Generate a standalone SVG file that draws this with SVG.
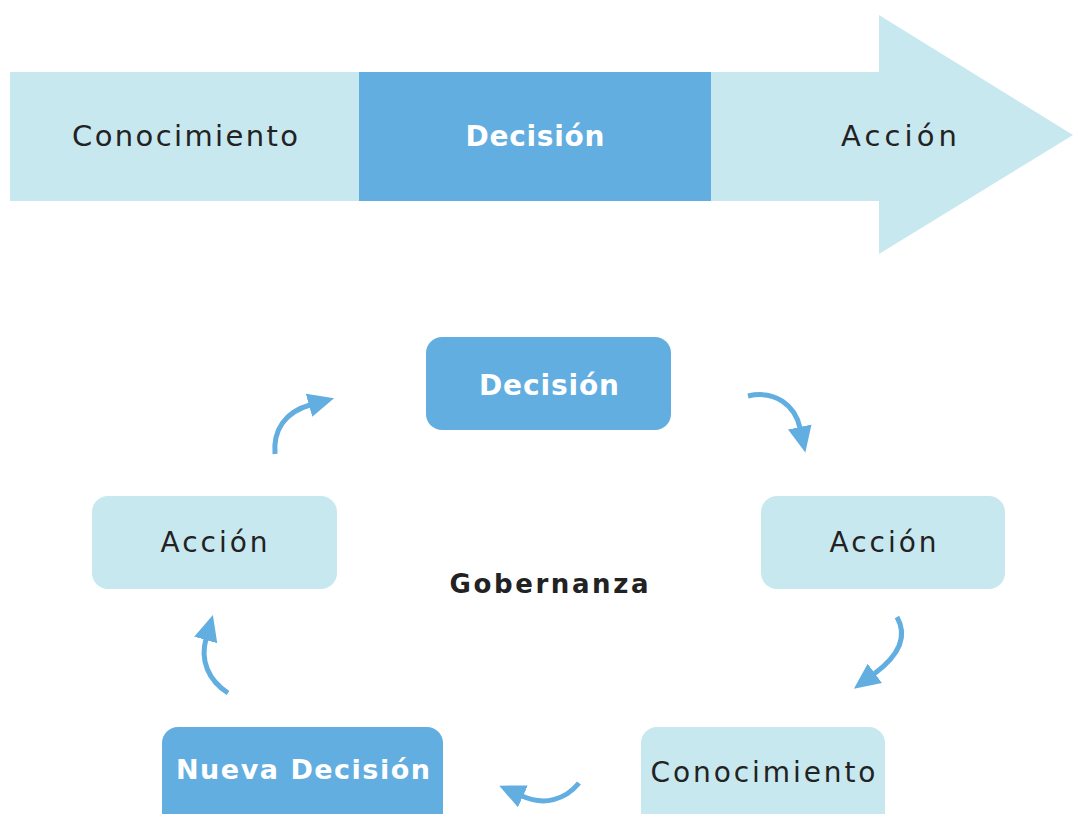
<svg xmlns="http://www.w3.org/2000/svg" width="1073" height="814" viewBox="0 0 1073 814">
<defs>
<style>
.light{fill:#c8e8ef}
.dark{fill:#62aee0}
.t{font-family:"DejaVu Sans","Open Sans",sans-serif;text-anchor:middle;fill:#222}
.tb{font-family:"DejaVu Sans","Open Sans",sans-serif;text-anchor:middle;fill:#fff;font-weight:bold}
.conn{fill:none;stroke:#62aee0;stroke-width:5;marker-end:url(#ah)}
</style>
<marker id="ah" markerUnits="userSpaceOnUse" viewBox="0 -13 28 26" refX="1" refY="0" markerWidth="28" markerHeight="26" orient="auto">
<path d="M0,-12 L26,0 L0,12 z" fill="#62aee0"/>
</marker>
</defs>
<g id="top-arrow">
<rect class="light" x="10" y="72" width="350" height="129"/>
<rect class="dark" x="359" y="72" width="353" height="129"/>
<polygon class="light" points="711,72 879,72 879,15 1073,135 879,254 879,201 711,201"/>
<text class="t" x="185" y="146" font-size="29" textLength="226" lengthAdjust="spacing">Conocimiento</text>
<text class="tb" x="535" y="146" font-size="28" textLength="139" lengthAdjust="spacing">Decisión</text>
<text class="t" x="899" y="146" font-size="29" textLength="116" lengthAdjust="spacing">Acción</text>
</g>
<g id="n-decision">
<rect class="dark" x="426" y="337" width="245" height="93" rx="16"/>
<text class="tb" x="549" y="395" font-size="28" textLength="140" lengthAdjust="spacing">Decisión</text>
</g>
<g id="n-accion-r">
<rect class="light" x="761" y="496" width="244" height="93" rx="16"/>
<text class="t" x="883" y="552" font-size="28" textLength="107" lengthAdjust="spacing">Acción</text>
</g>
<g id="n-accion-l">
<rect class="light" x="92" y="496" width="245" height="93" rx="16"/>
<text class="t" x="214" y="552" font-size="28" textLength="107" lengthAdjust="spacing">Acción</text>
</g>
<g id="n-conocimiento">
<rect class="light" x="641" y="727" width="244" height="110" rx="16"/>
<text class="t" x="763" y="782" font-size="28" textLength="225" lengthAdjust="spacing">Conocimiento</text>
</g>
<g id="n-nueva">
<rect class="dark" x="162" y="727" width="281" height="110" rx="16"/>
<text class="tb" x="303" y="779" font-size="27" textLength="254" lengthAdjust="spacing">Nueva Decisión</text>
</g>
<g id="n-gob">
<text x="549" y="593" font-size="26" font-family="'DejaVu Sans','Open Sans',sans-serif" font-weight="bold" text-anchor="middle" fill="#222" textLength="199" lengthAdjust="spacing">Gobernanza</text>
</g>
<g id="connectors">
<path class="conn" d="M275,454 C273,430 285,412 310,405"/>
<path class="conn" d="M748,396 C775,390 795,405 800,428"/>
<path class="conn" d="M897,617 C910,640 893,660 874,674"/>
<path class="conn" d="M579,783 C565,800 544,806 522,796"/>
<path class="conn" d="M228,693 C208,680 200,660 206,639"/>
</g>
</svg>
